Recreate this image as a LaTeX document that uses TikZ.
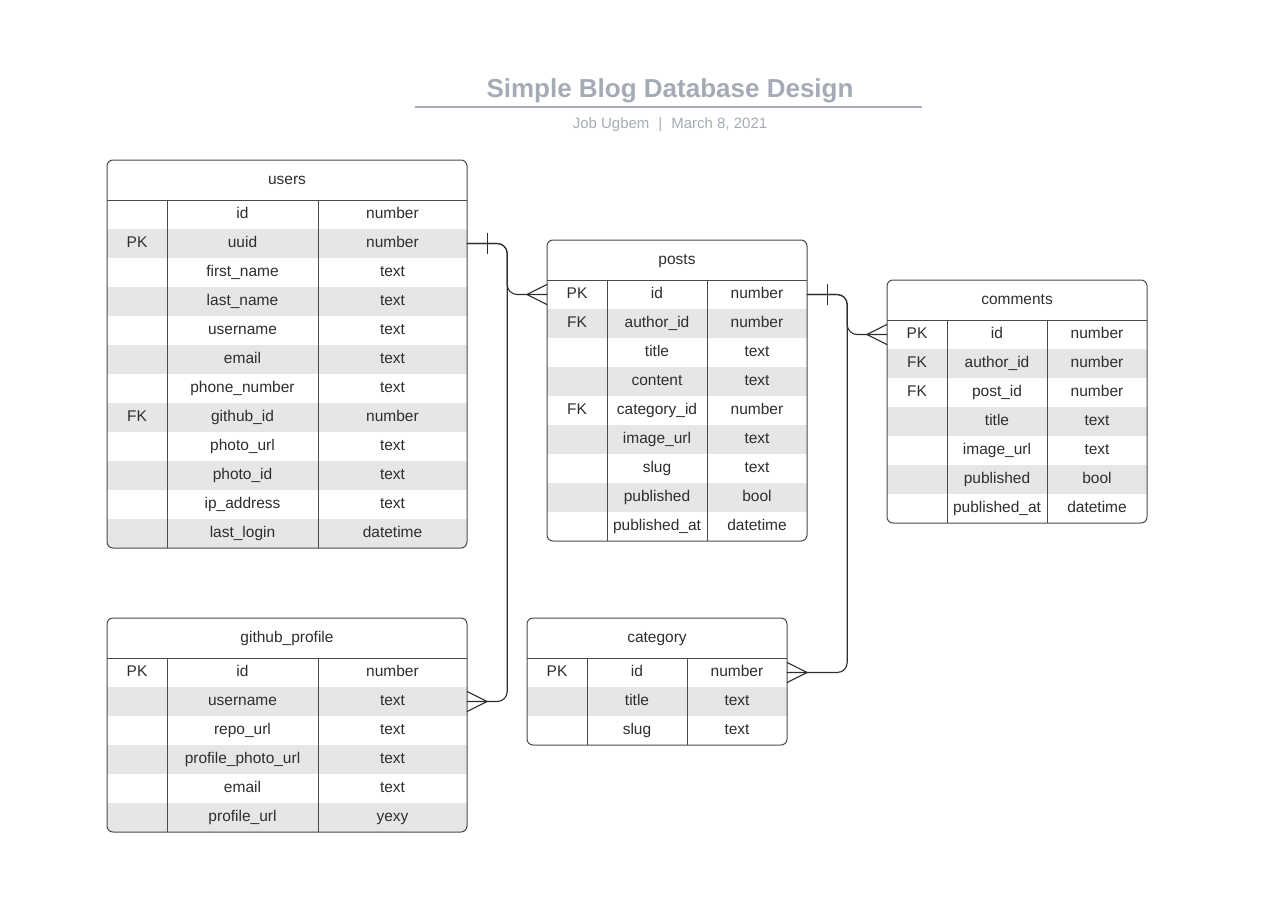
\documentclass[tikz,border=0pt]{standalone}
\usepackage{fontspec}
\setmainfont{Liberation Sans}
\usetikzlibrary{positioning}
\definecolor{titlegray}{HTML}{A5ABB5}
\definecolor{rowgray}{HTML}{E6E6E6}
\definecolor{inkgray}{HTML}{2E2E2E}
\definecolor{framegray}{HTML}{4A4A4A}

% #1 name, #2 left, #3 top, #4 field width, #5 type width, #6 rows, #7 title, #8 fields
\newcommand{\ertable}[8]{%
  \begin{scope}[shift={(#2,#3)}]
    \pgfmathsetmacro{\tabw}{60+#4+#5}
    \pgfmathsetmacro{\tabh}{40+29*#6}
    \begin{scope}
      \clip[rounded corners=6] (0,0) rectangle (\tabw,\tabh);
      \foreach \keyname/\fieldname/\typename [count=\i] in {#8} {
        \ifodd\i\relax \def\rowfill{white}\else \def\rowfill{rowgray}\fi
        \node[row, fill=\rowfill, minimum width=\tabw] (#1-\i) at ({\tabw/2},{25.5+29*\i}) {};
        \node[cell] (#1-\i-key) at (30,{25.5+29*\i}) {\keyname};
        \node[cell] (#1-\i-field) at ({60+#4/2},{25.5+29*\i}) {\fieldname};
        \node[cell] (#1-\i-type) at ({60+#4+#5/2},{25.5+29*\i}) {\typename};
      }
    \end{scope}
    \node[cell] (#1) at ({\tabw/2},20) {#7};
    \draw[frame, rounded corners=6] (0,0) rectangle (\tabw,\tabh);
    \draw[frame] (0,40) -- (\tabw,40)
      (60,40) -- (60,\tabh)
      ({60+#4},40) -- ({60+#4},\tabh);
  \end{scope}}

\begin{document}
\begin{tikzpicture} [%
    x = 1pt,
    y = -1pt,
    cell/.style = {%
      inner sep = 0,
      text height = 11pt,
      text depth = 3pt,
      text = inkgray,
      font = \fontsize{15.5}{18}\selectfont },
    row/.style = {%
      inner sep = 0,
      draw = none,
      minimum height = 29 },
    frame/.style = {%
      draw = framegray,
      line width = 1pt },
    conn/.style = {%
      draw = inkgray,
      line width = 1.1pt,
      line cap = round },
    crow west/.pic = {\draw[conn] (-20pt,0pt) -- (0pt,10pt) (-20pt,0pt) -- (0pt,-10pt);},
    crow east/.pic = {\draw[conn] (20pt,0pt) -- (0pt,10pt) (20pt,0pt) -- (0pt,-10pt);},
    one bar/.pic = {\draw[conn] (0pt,-10pt) -- (0pt,10pt);}
  ]

  \useasboundingbox (0,0) rectangle (1269,918);

  \node[anchor=base, text=titlegray, font=\fontsize{26}{30}\selectfont\bfseries]
    (title) at (670,97) {Simple Blog Database Design};
  \draw[titlegray, line width=2pt] (415,107) -- (922,107);
  \node[anchor=base, text=titlegray, font=\fontsize{15}{18}\selectfont]
    (byline) at (670,128) {Job Ugbem\hspace{0.6em}|\hspace{0.6em}March 8, 2021};

  \ertable{users}{107}{160}{151}{149}{12}{users}{%
    {}/id/number, PK/uuid/number, {}/first\_name/text, {}/last\_name/text,
    {}/username/text, {}/email/text, {}/phone\_number/text, FK/github\_id/number,
    {}/photo\_url/text, {}/photo\_id/text, {}/ip\_address/text, {}/last\_login/datetime}

  \ertable{posts}{547}{240}{100}{100}{9}{posts}{%
    PK/id/number, FK/author\_id/number, {}/title/text, {}/content/text,
    FK/category\_id/number, {}/image\_url/text, {}/slug/text, {}/published/bool,
    {}/published\_at/datetime}

  \ertable{comments}{887}{280}{100}{100}{7}{comments}{%
    PK/id/number, FK/author\_id/number, FK/post\_id/number, {}/title/text,
    {}/image\_url/text, {}/published/bool, {}/published\_at/datetime}

  \ertable{github}{107}{618}{151}{149}{6}{github\_profile}{%
    PK/id/number, {}/username/text, {}/repo\_url/text, {}/profile\_photo\_url/text,
    {}/email/text, {}/profile\_url/yexy}

  \ertable{category}{527}{618}{100}{100}{3}{category}{%
    PK/id/number, {}/title/text, {}/slug/text}

  % relations
  \draw[conn, rounded corners=10] (users-2.east) -- ++(40,0) |- (posts-1.west);
  \draw[conn, rounded corners=10] (users-2.east) -- ++(40,0) |- (github-2.east);
  \draw[conn, rounded corners=10] (posts-1.east) -- ++(40,0) |- (comments-1.west);
  \draw[conn, rounded corners=10] (posts-1.east) -- ++(40,0) |- (category-1.east);

  \pic at ([xshift=20pt]users-2.east) {one bar};
  \pic at ([xshift=20pt]posts-1.east) {one bar};
  \pic at (posts-1.west) {crow west};
  \pic at (comments-1.west) {crow west};
  \pic at (github-2.east) {crow east};
  \pic at (category-1.east) {crow east};

\end{tikzpicture}
\end{document}
